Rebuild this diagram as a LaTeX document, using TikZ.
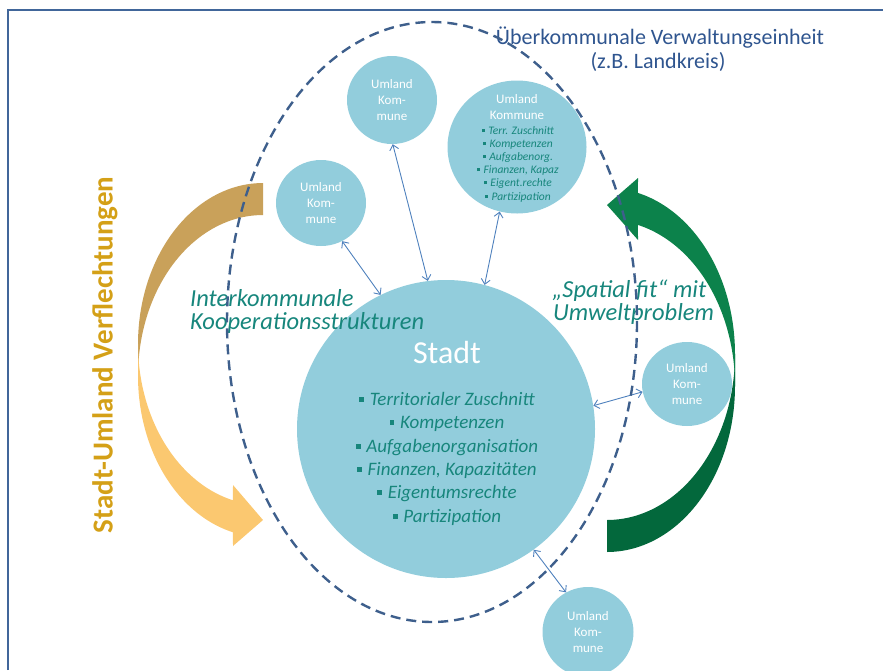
\documentclass[tikz,border=0pt]{standalone}
\usepackage{fontspec}
\setmainfont{Carlito}
\usetikzlibrary{arrows.meta,shapes.geometric}

\definecolor{frameblue}{RGB}{65,102,154}
\definecolor{dashblue}{RGB}{62,95,140}
\definecolor{titleblue}{RGB}{47,85,143}
\definecolor{cityfill}{RGB}{146,205,220}
\definecolor{linkblue}{RGB}{79,129,189}
\definecolor{tealtext}{RGB}{23,134,124}
\definecolor{goldtext}{RGB}{212,160,23}
\definecolor{goldback}{RGB}{201,161,90}
\definecolor{goldfront}{RGB}{251,200,112}
\definecolor{greenfront}{RGB}{12,130,75}
\definecolor{greenback}{RGB}{3,104,60}

\newcommand\fsz[2]{\fontsize{#1}{#2}\selectfont}
\newcommand\sqbullet{{\upshape\raisebox{0.17em}{\rule{0.25em}{0.25em}}}\hspace{0.3em}}

\begin{document}
\begin{tikzpicture}[x=1pt,y=-1pt,
  commune/.style={ellipse, fill=cityfill, inner sep=0pt, text=white,
    align=center, font=\fsz{13}{16}},
  link/.style={draw=linkblue, line width=0.9pt,
    {Straight Barb[length=5pt,width=9pt]}-{Straight Barb[length=5pt,width=9pt]}},
  slanted/.style={inner sep=0pt, text=tealtext, font=\itshape\fsz{24.5}{27}},
  citylist/.style={anchor=base, inner sep=0pt, text=tealtext, font=\itshape\fsz{19}{23}},
  smalllist/.style={anchor=base, inner sep=0pt, text=tealtext, font=\itshape\fsz{11.5}{13}},
  whitelabel/.style={anchor=base, inner sep=0pt, text=white, font=\fsz{13}{16}},
  titletext/.style={anchor=base, inner sep=0pt, text=titleblue, font=\fsz{22}{25}}
]
\useasboundingbox (0,0) rectangle (883,670);

% frame
\draw[frameblue, line width=2pt] (8,670) -- (8,10) -- (883,10);

% curved gold arrow (left): back part, then front part with head
\fill[goldback]
  plot[domain=-90:-180, samples=50, variable=\t] ({263+125*cos(\t)},{344+161*sin(\t)})
  -- plot[domain=180:270, samples=50, variable=\t] ({263+125*cos(\t)},{376+161*sin(\t)})
  -- cycle;
\fill[goldfront]
  plot[domain=180:103.9, samples=50, variable=\t] ({263+125*cos(\t)},{344+161*sin(\t)})
  -- (233,485) -- (263,520) -- (233,546)
  -- plot[domain=103.9:180, samples=50, variable=\t] ({263+125*cos(\t)},{376+161*sin(\t)})
  -- cycle;

% curved green arrow (right): back part, then front part with head
\fill[greenback]
  plot[domain=0:90, samples=50, variable=\t] ({607+128*cos(\t)},{386+166*sin(\t)})
  -- plot[domain=90:0, samples=50, variable=\t] ({607+128*cos(\t)},{354+166*sin(\t)})
  -- cycle;
\fill[greenfront]
  plot[domain=-76:0, samples=50, variable=\t] ({607+128*cos(\t)},{354+166*sin(\t)})
  -- plot[domain=0:-76, samples=50, variable=\t] ({607+128*cos(\t)},{386+166*sin(\t)})
  -- (638,240) -- (607,205) -- (638,178) -- cycle;

% city and surrounding communes
\node[circle, fill=cityfill, minimum size=298pt, inner sep=0pt] (stadt) at (446,429) {};
\node[commune, minimum width=90pt, minimum height=88pt] (uk1) at (392,100) {Umland\\Kom-\\mune};
\node[commune, minimum width=90pt, minimum height=86pt] (uk2) at (321,203) {Umland\\Kom-\\mune};
\node[ellipse, fill=cityfill, inner sep=0pt, minimum width=139pt, minimum height=133pt] (uk3) at (517,147) {};
\node[commune, minimum width=90pt, minimum height=84pt] (uk4) at (687,384) {Umland\\Kom-\\mune};
\node[commune, minimum width=91pt, minimum height=90pt] (uk5) at (588,632) {Umland\\Kom-\\mune};

% links between city and communes
\draw[link] (uk2.-61) -- (stadt.116);
\draw[link] (uk1.-89) -- (stadt.97);
\draw[link] (uk3.-105) -- (stadt.75);
\draw[link] (stadt.9) -- (uk4.190);
\draw[link] (stadt.-54) -- (uk5.119);

% text of the large commune
\node[whitelabel] (uk3a) at (517,103) {Umland};
\node[whitelabel] (uk3b) at (517,119) {Kommune};
\foreach \y/\txt [count=\i] in {134/Terr. Zuschnitt, 147/Kompetenzen, 160/Aufgabenorg.,
    173/{Finanzen, Kapaz}, 186/Eigent.rechte, 200/Partizipation}
  \node[smalllist] (uk3l\i) at (518,\y) {\sqbullet\txt};

% text of the city
\node[anchor=base, inner sep=0pt, text=white, font=\fsz{32}{36}] (stname) at (447,363) {Stadt};
\foreach \y/\txt [count=\i] in {405/Territorialer Zuschnitt, 428/Kompetenzen,
    452/Aufgabenorganisation, 475/{Finanzen, Kapazitäten}, 498/Eigentumsrechte,
    522/Partizipation}
  \node[citylist] (sl\i) at (447,\y) {\sqbullet\txt};

% labels
\node[titletext] (title1) at (660,44) {Überkommunale Verwaltungseinheit};
\node[titletext] (title2) at (658,68) {(z.B. Landkreis)};
\node[rotate=90, inner sep=0pt, text=goldtext, font=\bfseries\fsz{29}{32}] (sulabel) at (105,355)
  {Stadt-Umland Verflechtungen};
\node[slanted, anchor=base west] (ik1) at (190,306) {Interkommunale};
\node[slanted, anchor=base west] (ik2) at (190,329) {Kooperationsstrukturen};
\node[slanted, anchor=base west] (sf1) at (552,297) {„Spatial fit“ mit};
\node[slanted, anchor=base west] (sf2) at (553,320) {Umweltproblem};

% administrative unit boundary
\draw[dashblue, line width=2.4pt, dash pattern=on 10pt off 6pt]
  (432,322) ellipse [x radius=205, y radius=300];
\end{tikzpicture}
\end{document}
